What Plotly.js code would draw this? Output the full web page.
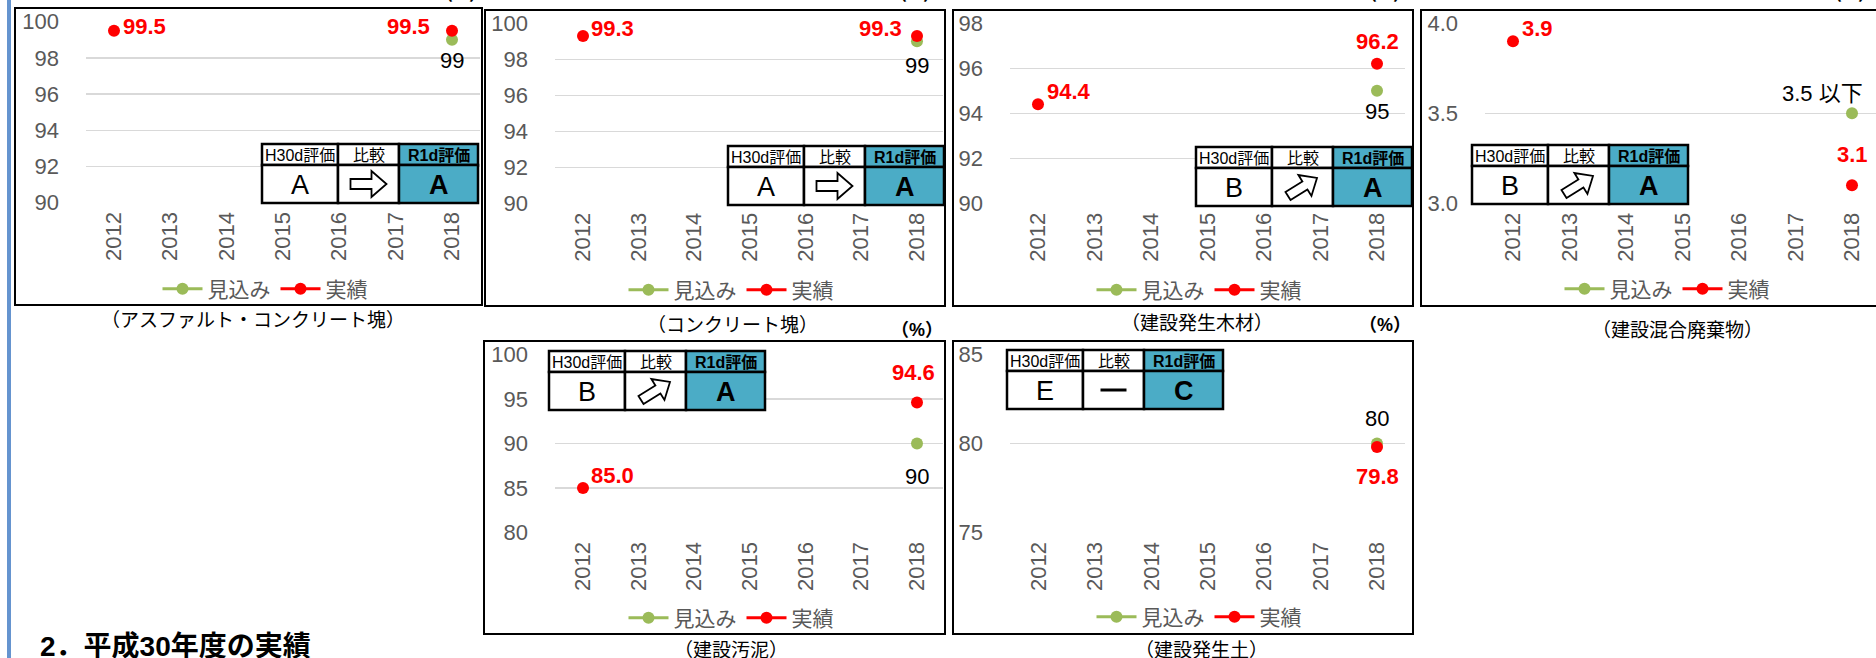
<!DOCTYPE html>
<html>
<head>
<meta charset="utf-8">
<script src="https://cdn.plot.ly/plotly-3.0.1.min.js"></script>
<style>
  html, body { margin: 0; padding: 0; background: #fff; }
  #chart { width: 1876px; height: 658px; }
</style>
</head>
<body>
<div id="chart"></div>
<script>
// --- data ---
const years = ['2012', '2013', '2014', '2015', '2016', '2017', '2018']
const titles = ['（アスファルト・コンクリート塊）', '（コンクリート塊）', '（建設発生木材）', '（建設混合廃棄物）', '（建設汚泥）', '（建設発生土）']

const asconForecast = [null, null, null, null, null, null, 99]
const asconActual = [99.5, null, null, null, null, null, 99.5]
const concForecast = [null, null, null, null, null, null, 99]
const concActual = [99.3, null, null, null, null, null, 99.3]
const woodForecast = [null, null, null, null, null, null, 95]
const woodActual = [94.4, null, null, null, null, null, 96.2]
const mixedForecast = [null, null, null, null, null, null, 3.5]
const mixedActual = [3.9, null, null, null, null, null, 3.1]
const sludgeForecast = [null, null, null, null, null, null, 90]
const sludgeActual = [85.0, null, null, null, null, null, 94.6]
const soilForecast = [null, null, null, null, null, null, 80]
const soilActual = [null, null, null, null, null, null, 79.8]

const forecastLabels = ['99', '99', '95', '3.5 以下', '90', '80']
const h30Eval = ['A', 'A', 'B', 'B', 'B', 'E']
const trend = ['right', 'right', 'up', 'up', 'up', 'none']
const r1Eval = ['A', 'A', 'A', 'A', 'A', 'C']

const yRanges = [[90, 100], [90, 100], [90, 98], [3, 4], [80, 100], [75, 85]]
const yDticks = [2, 2, 2, 0.5, 5, 5]
const yFormats = ['d', 'd', 'd', '.1f', 'd', 'd']

const forecasts = [asconForecast, concForecast, woodForecast, mixedForecast, sludgeForecast, soilForecast]
const actuals = [asconActual, concActual, woodActual, mixedActual, sludgeActual, soilActual]

// --- page geometry (pixels) ---
const W = 1876, H = 658
const fx = p => p / W
const fy = p => 1 - p / H

const geo = [
    { box: [15, 8, 482, 305], plot: [86, 480, 21.7, 202.7], c: [114, 452], table: [262, 144], legend: [265, 289], cap: [253, 320] },
    { box: [485, 10, 945, 306], plot: [555, 943, 23.3, 203.3], c: [583, 917], table: [728, 146], legend: [731, 290], cap: [732, 325] },
    { box: [953, 10, 1413, 306], plot: [1010, 1405, 23.3, 203.3], c: [1038, 1377], table: [1196, 147], legend: [1199, 290], cap: [1197, 323] },
    { box: [1421, 10, 1895, 306], plot: [1485, 1876, 23.3, 203.3], c: [1513, 1852], table: [1472, 145], legend: [1667, 289], cap: [1677, 330] },
    { box: [484, 341, 945, 634], plot: [555, 943, 354.3, 532.7], c: [583, 917], table: [549, 351], legend: [731, 618], cap: [731, 650] },
    { box: [953, 341, 1413, 634], plot: [1010, 1405, 354.3, 532.7], c: [1039, 1377], table: [1007, 350], legend: [1199, 617], cap: [1201, 650] },
]

// where each data label sits relative to its point
const labelSpecs = [
    [{ s: 'a', i: 0, xa: 'left', dx: 7, dy: 4 }, { s: 'a', i: 6, xa: 'right', dx: -20, dy: 4 }, { s: 'f', i: 6, xa: 'center', dx: 0, dy: -21 }],
    [{ s: 'a', i: 0, xa: 'left', dx: 6, dy: 7 }, { s: 'a', i: 6, xa: 'right', dx: -13, dy: 7 }, { s: 'f', i: 6, xa: 'center', dx: 0, dy: -24 }],
    [{ s: 'a', i: 0, xa: 'left', dx: 7, dy: 13 }, { s: 'a', i: 6, xa: 'center', dx: 0, dy: 22 }, { s: 'f', i: 6, xa: 'center', dx: 0, dy: -21 }],
    [{ s: 'a', i: 0, xa: 'left', dx: 7, dy: 13 }, { s: 'a', i: 6, xa: 'center', dx: 0, dy: 31 }, { s: 'f', i: 6, xa: 'right', dx: 13, dy: 20 }],
    [{ s: 'a', i: 0, xa: 'left', dx: 6, dy: 13 }, { s: 'a', i: 6, xa: 'center', dx: -4, dy: 30 }, { s: 'f', i: 6, xa: 'center', dx: 0, dy: -33 }],
    [{ s: 'f', i: 6, xa: 'center', dx: 0, dy: 25 }, { s: 'a', i: 6, xa: 'center', dx: 0, dy: -29 }],
]

const FONT = 'Liberation Sans, Arial, Noto Sans CJK JP, sans-serif'
const GREEN = '#9BBB59', RED = '#FF0000', BLUE = '#4BACC6', GRAY = '#595959'

const traces = []
const layout = {
    width: W, height: H,
    margin: { l: 0, r: 0, t: 0, b: 0 },
    paper_bgcolor: '#fff', plot_bgcolor: 'rgba(0,0,0,0)',
    font: { family: FONT, color: GRAY },
    shapes: [], annotations: [],
}

// blue bar on the left page edge
layout.shapes.push({ type: 'rect', xref: 'paper', yref: 'paper', x0: fx(7), x1: fx(11), y0: 0, y1: 1, line: { width: 0 }, fillcolor: '#6594CF' })

geo.forEach((g, k) => {
    const n = k + 1
    const sfx = n === 1 ? '' : String(n)
    const xa = 'x' + sfx, ya = 'y' + sfx
    const lg = 'legend' + sfx

    traces.push({
        type: 'scatter', mode: 'lines+markers', name: '見込み',
        x: years, y: forecasts[k], xaxis: xa, yaxis: ya, legend: lg,
        line: { color: GREEN, width: 3 }, marker: { color: GREEN, size: 12 },
        hoverinfo: 'skip',
    })
    traces.push({
        type: 'scatter', mode: 'lines+markers', name: '実績',
        x: years, y: actuals[k], xaxis: xa, yaxis: ya, legend: lg,
        line: { color: RED, width: 3 }, marker: { color: RED, size: 12 },
        hoverinfo: 'skip',
    })

    const [L, R, T, B] = g.plot
    const step = (g.c[1] - g.c[0]) / 6
    layout['xaxis' + sfx] = {
        domain: [fx(L), fx(R)], anchor: ya, type: 'category',
        range: [-(g.c[0] - L) / step, 6 + (R - g.c[1]) / step],
        tickangle: -90, tickfont: { size: 22, color: GRAY }, ticks: '', ticklabelstandoff: 4,
        showgrid: false, zeroline: false, showline: false, fixedrange: true,
    }
    layout['yaxis' + sfx] = {
        domain: [fy(B), fy(T)], anchor: xa, range: yRanges[k], dtick: yDticks[k], tick0: yRanges[k][0],
        tickformat: yFormats[k], tickfont: { size: 22, color: GRAY }, ticks: '', ticklabelstandoff: 26,
        showgrid: true, gridcolor: '#D9D9D9', gridwidth: 1.5, zeroline: false, showline: false, fixedrange: true,
    }
    layout[lg] = {
        orientation: 'h', x: fx(g.legend[0]), y: fy(g.legend[1]), xanchor: 'center', yanchor: 'middle',
        font: { size: 21, color: GRAY }, bgcolor: 'rgba(0,0,0,0)', itemclick: false, itemwidth: 40,
    }

    // panel frame
    const [bx0, by0, bx1, by1] = g.box
    layout.shapes.push({ type: 'rect', xref: 'paper', yref: 'paper', x0: fx(bx0), x1: fx(bx1), y0: fy(by1), y1: fy(by0), line: { color: '#000', width: 2 } })

    // caption
    layout.annotations.push({ xref: 'paper', yref: 'paper', x: fx(g.cap[0]), y: fy(g.cap[1]), xanchor: 'center', yanchor: 'middle', showarrow: false, text: titles[k], font: { size: 19, color: '#000' } })

    // data labels, anchored on the point through the subplot's axes (category index on x)
    labelSpecs[k].forEach(sp => {
        const arr = sp.s === 'a' ? actuals[k] : forecasts[k]
        const isA = sp.s === 'a'
        layout.annotations.push({
            xref: xa, yref: ya, x: sp.i, y: arr[sp.i],
            xanchor: sp.xa, yanchor: 'middle', xshift: sp.dx, yshift: sp.dy, showarrow: false,
            text: isA ? arr[sp.i].toFixed(1) : forecastLabels[k],
            font: { size: 22, color: isA ? RED : '#000', weight: isA ? 'bold' : 'normal' },
        })
    })

    // evaluation table
    const cols = [76, 61, 79], hh = 21, rh = 38
    let cx = g.table[0]
    const ty = g.table[1]
    const heads = ['H30d評価', '比較', 'R1d評価']
    cols.forEach((cw, j) => {
        const fill = j === 2 ? BLUE : '#fff'
        layout.shapes.push({ type: 'rect', xref: 'paper', yref: 'paper', x0: fx(cx), x1: fx(cx + cw), y0: fy(ty + hh), y1: fy(ty), fillcolor: fill, line: { color: '#000', width: 2.5 } })
        layout.shapes.push({ type: 'rect', xref: 'paper', yref: 'paper', x0: fx(cx), x1: fx(cx + cw), y0: fy(ty + hh + rh), y1: fy(ty + hh), fillcolor: fill, line: { color: '#000', width: 2.5 } })
        layout.annotations.push({ xref: 'paper', yref: 'paper', x: fx(cx + cw / 2), y: fy(ty + hh / 2 + 1), xanchor: 'center', yanchor: 'middle', showarrow: false, text: heads[j], font: { size: 16, color: '#000', weight: j === 2 ? 'bold' : 'normal' } })
        const mx = cx + cw / 2, my = ty + hh + rh / 2
        if (j === 0 || j === 2) {
            layout.annotations.push({ xref: 'paper', yref: 'paper', x: fx(mx), y: fy(my + 1), xanchor: 'center', yanchor: 'middle', showarrow: false, text: j === 0 ? h30Eval[k] : r1Eval[k], font: { size: 27, color: '#000', weight: j === 2 ? 'bold' : 'normal' } })
        } else if (trend[k] === 'none') {
            layout.shapes.push({ type: 'line', xref: 'paper', yref: 'paper', x0: fx(mx - 13), x1: fx(mx + 13), y0: fy(my), y1: fy(my), line: { color: '#000', width: 3 } })
        } else {
            // outline arrow, rotated for the diagonal case
            const pts = [[-18, -5], [3, -5], [3, -13], [18, 0], [3, 13], [3, 5], [-18, 5]]
            const a = trend[k] === 'up' ? -32 * Math.PI / 180 : 0
            const sc = trend[k] === 'up' ? 0.95 : 1
            const path = pts.map((p, q) => {
                const px = mx + sc * (p[0] * Math.cos(a) - p[1] * Math.sin(a))
                const py = my + sc * (p[0] * Math.sin(a) + p[1] * Math.cos(a))
                return (q === 0 ? 'M' : 'L') + fx(px).toFixed(5) + ',' + fy(py).toFixed(5)
            }).join(' ') + ' Z'
            layout.shapes.push({ type: 'path', xref: 'paper', yref: 'paper', path, fillcolor: '#fff', line: { color: '#000', width: 1.8 } })
        }
        cx += cw
    })
})

// unit marks
const unitPos = [[461, -6], [915, -6], [1385, -6], [1850, -6], [917, 330], [1385, 325]]
unitPos.forEach(p => {
    layout.annotations.push({ xref: 'paper', yref: 'paper', x: fx(p[0]), y: fy(p[1]), xanchor: 'center', yanchor: 'middle', showarrow: false, text: '（%）', font: { size: 18, color: '#000', weight: 'bold' } })
})

// section heading
layout.annotations.push({ xref: 'paper', yref: 'paper', x: fx(38), y: fy(646), xanchor: 'left', yanchor: 'middle', showarrow: false, text: '2．平成30年度の実績', font: { size: 28, color: '#000', weight: 'bold' } })

Plotly.newPlot(document.getElementById('chart'), traces, layout, { staticPlot: true, displayModeBar: false })
</script>
</body>
</html>
